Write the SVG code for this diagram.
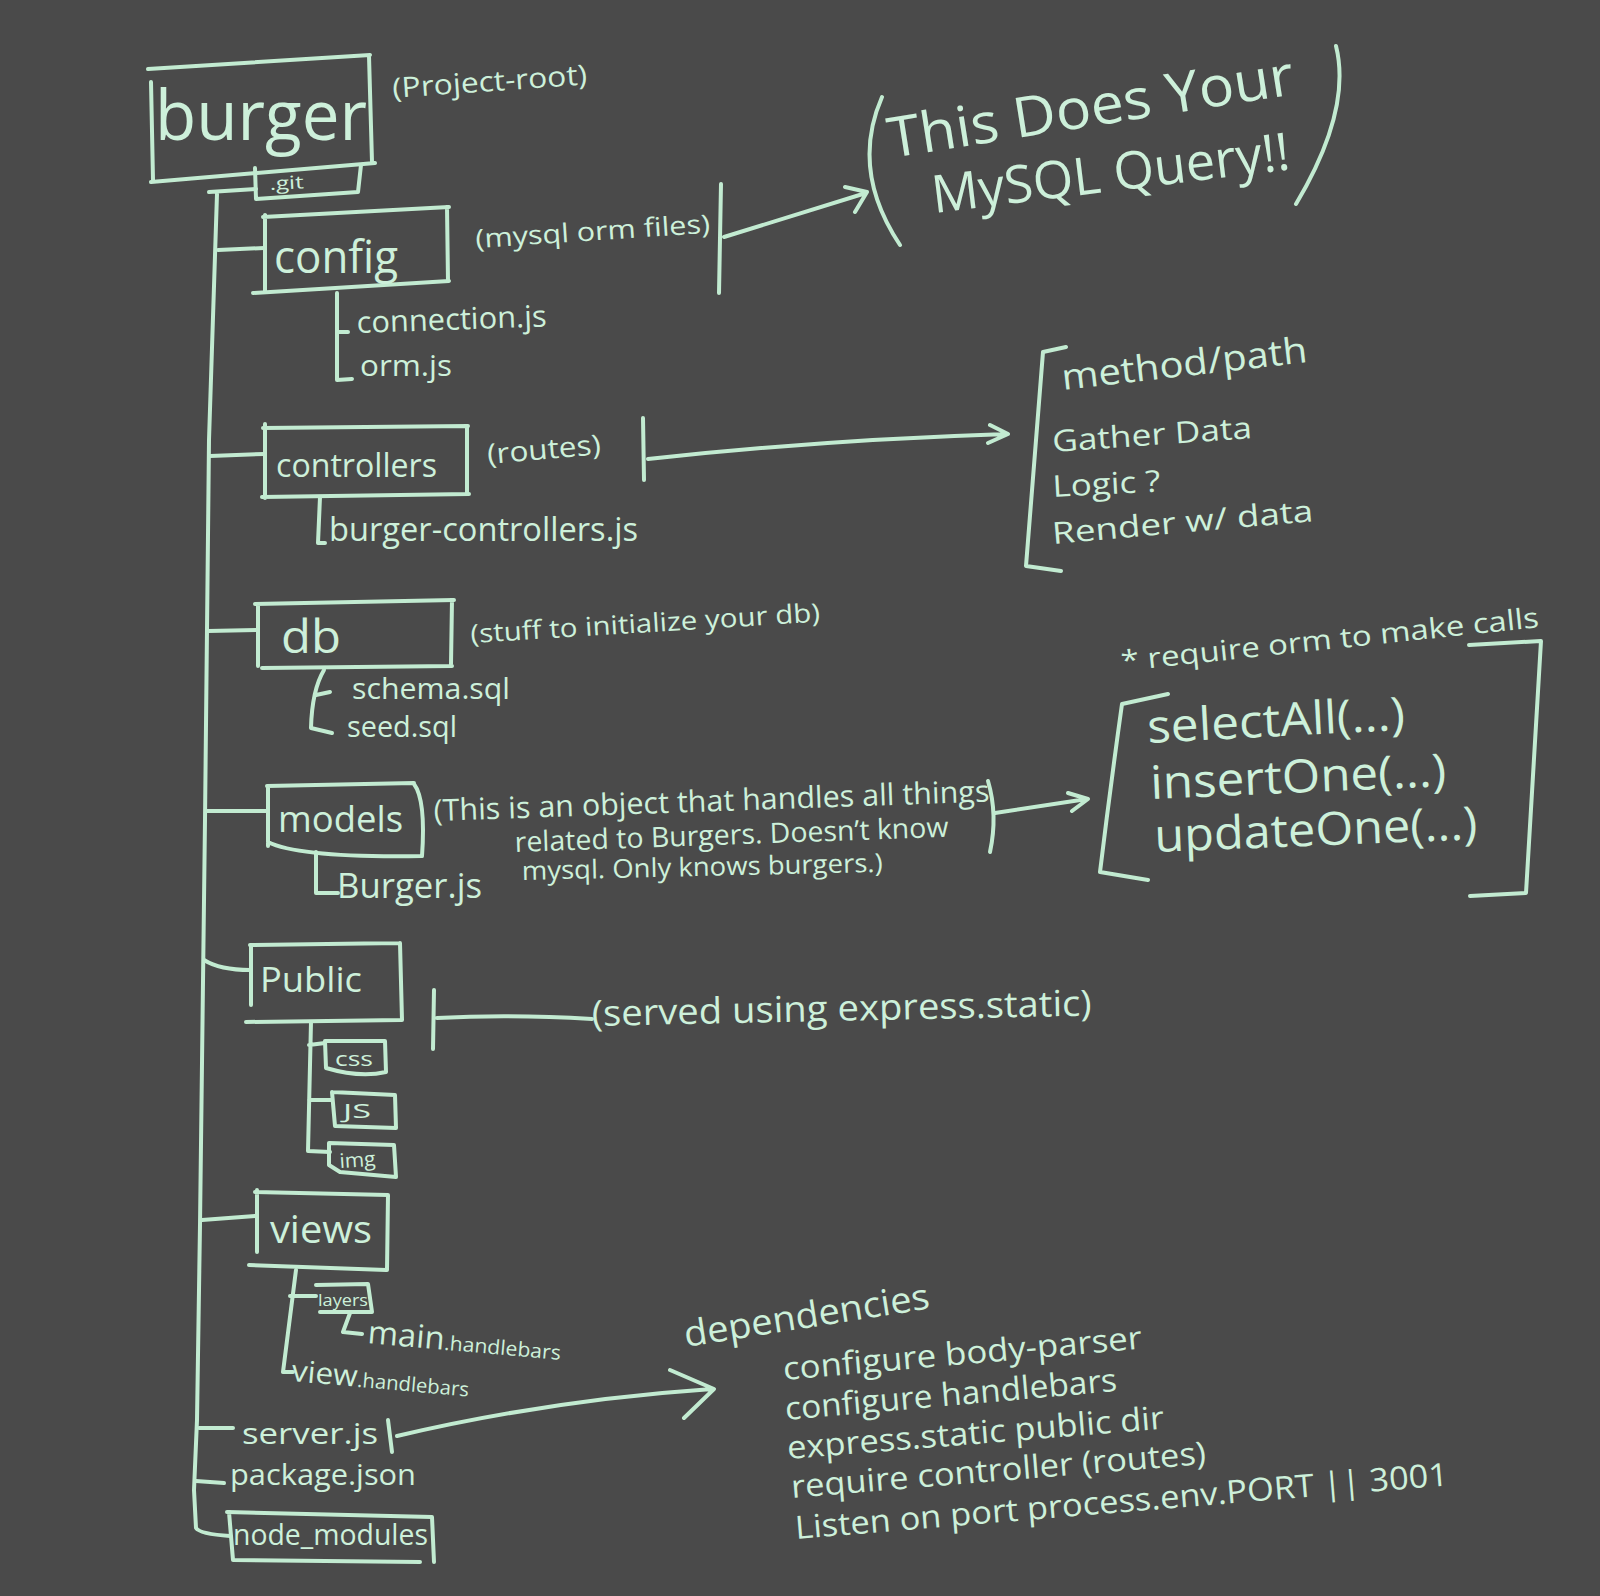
<svg xmlns="http://www.w3.org/2000/svg" width="1600" height="1596" viewBox="0 0 1600 1596">
<style>
.c{fill:none;stroke:#c2ebd1;stroke-width:4;stroke-linecap:round;stroke-linejoin:round}
.t{fill:#cdf0da;font-family:"Open Sans","Liberation Sans",sans-serif}
</style>
<rect width="1600" height="1596" fill="#4a4a4a"/>
<g id="connectors">
<path class="c" d="M209,192 L256,189 M217,194 L209,440 L205,820 L200,1225 L197,1420 L194,1490 L196,1528 Q200,1534 230,1536"/>
<path class="c" d="M218,250 L264,248 M210,456 L264,454 M208,631 L256,630 M206,811 L268,811 M204,960 Q220,970 250,970 M202,1220 L255,1216 M199,1428 L233,1428 M196,1481 L224,1483"/>
<path class="c" d="M337,293 L337,380 L352,379 M337,332 L348,332"/>
<path class="c" d="M320,497 L318,543 L325,543"/>
<path class="c" d="M324,670 Q312,690 311,728 L332,733 M316,695 L330,692"/>
<path class="c" d="M316,852 L316,893 L338,893"/>
<path class="c" d="M311,1022 L308,1151 L330,1152 M309,1045 L325,1043 M309,1100 L332,1100"/>
<path class="c" d="M296,1270 L283,1372 L293,1372 M290,1296 L316,1296 M350,1313 L343,1332 L362,1334"/>
<path class="c" d="M721,184 L719,293 M724,237 L866,193 M845,187 L867,192 L855,212"/>
<path class="c" d="M643,418 L644,480 M648,459 Q820,440 1007,434 M990,425 L1008,434 L988,443"/>
<path class="c" d="M995,813 L1087,799 M1068,793 L1088,799 L1072,811"/>
<path class="c" d="M434,990 L433,1049 M437,1018 Q510,1014 592,1019"/>
<path class="c" stroke-width="8" d="M388,1420 L392,1452"/>
<path class="c" d="M397,1436 Q550,1400 712,1389 M670,1370 L714,1389 L684,1418"/>
</g>
<g id="burger">
<path class="c" d="M148,69 L370,55 M151,82 L153,180 M151,182 L375,163 M369,56 L372,162"/>
<text class="t" x="155" y="140" font-size="70" textLength="212" lengthAdjust="spacingAndGlyphs">burger</text>
<text class="t" x="393" y="98" font-size="28" textLength="195" lengthAdjust="spacingAndGlyphs" transform="rotate(-4 393 98)">(Project-root)</text>
</g>
<g id="git">
<path class="c" d="M255,168 L256,199 L358,192 L361,165"/>
<text class="t" x="270" y="190" font-size="18" textLength="34" lengthAdjust="spacingAndGlyphs" transform="rotate(-3 270 190)">.git</text>
</g>
<g id="config">
<path class="c" d="M263,217 L449,207 M265,215 L265,291 M253,293 L449,281 M447,207 L448,281"/>
<text class="t" x="274" y="273" font-size="46" textLength="124" lengthAdjust="spacingAndGlyphs">config</text>
<text class="t" x="357" y="333" font-size="30" textLength="190" lengthAdjust="spacingAndGlyphs" transform="rotate(-2 357 333)">connection.js</text>
<text class="t" x="360" y="376" font-size="30" textLength="92" lengthAdjust="spacingAndGlyphs">orm.js</text>
<text class="t" x="476" y="248" font-size="26" textLength="235" lengthAdjust="spacingAndGlyphs" transform="rotate(-3.7 476 248)">(mysql orm files)</text>
</g>
<g id="mysql-query">
<path class="c" d="M882,97 Q850,170 900,245 M1336,46 Q1352,110 1296,204"/>
<text class="t" x="891" y="158" font-size="56" textLength="410" lengthAdjust="spacingAndGlyphs" transform="rotate(-9 891 158)">This Does Your</text>
<text class="t" x="934" y="213" font-size="52" textLength="360" lengthAdjust="spacingAndGlyphs" transform="rotate(-7 934 213)">MySQL Query!!</text>
</g>
<g id="controllers">
<path class="c" d="M263,428 L468,426 M265,424 L265,498 M262,497 L469,494 M467,426 L467,494"/>
<text class="t" x="276" y="477" font-size="32" textLength="161" lengthAdjust="spacingAndGlyphs">controllers</text>
<text class="t" x="329" y="541" font-size="32" textLength="309" lengthAdjust="spacingAndGlyphs">burger-controllers.js</text>
<text class="t" x="488" y="464" font-size="28" textLength="114" lengthAdjust="spacingAndGlyphs" transform="rotate(-5 488 464)">(routes)</text>
</g>
<g id="route-steps">
<path class="c" d="M1066,347 L1043,352 Q1035,450 1026,566 L1061,571"/>
<text class="t" x="1063" y="390" font-size="36" textLength="247" lengthAdjust="spacingAndGlyphs" transform="rotate(-6.5 1063 390)">method/path</text>
<text class="t" x="1053" y="452" font-size="30" textLength="200" lengthAdjust="spacingAndGlyphs" transform="rotate(-4 1053 452)">Gather Data</text>
<text class="t" x="1053" y="497" font-size="30" textLength="108" lengthAdjust="spacingAndGlyphs" transform="rotate(-3 1053 497)">Logic ?</text>
<text class="t" x="1053" y="544" font-size="30" textLength="262" lengthAdjust="spacingAndGlyphs" transform="rotate(-5 1053 544)">Render w/ data</text>
</g>
<g id="db">
<path class="c" d="M255,604 L454,600 M258,604 L258,666 M262,668 L452,666 M452,600 L451,664"/>
<text class="t" x="281" y="653" font-size="46" textLength="60" lengthAdjust="spacingAndGlyphs">db</text>
<text class="t" x="352" y="699" font-size="30" textLength="158" lengthAdjust="spacingAndGlyphs">schema.sql</text>
<text class="t" x="347" y="737" font-size="30" textLength="110" lengthAdjust="spacingAndGlyphs">seed.sql</text>
<text class="t" x="471" y="643" font-size="26" textLength="350" lengthAdjust="spacingAndGlyphs" transform="rotate(-3.5 471 643)">(stuff to initialize your db)</text>
</g>
<g id="models">
<path class="c" d="M267,786 L414,783 M268,786 L268,846 M268,842 Q300,858 422,856 M414,784 Q426,800 422,856"/>
<text class="t" x="278" y="832" font-size="36" textLength="125" lengthAdjust="spacingAndGlyphs">models</text>
<text class="t" x="337" y="898" font-size="34" textLength="145" lengthAdjust="spacingAndGlyphs">Burger.js</text>
<text class="t" x="434" y="821" font-size="30" textLength="556" lengthAdjust="spacingAndGlyphs" transform="rotate(-2 434 821)">(This is an object that handles all things</text>
<text class="t" x="515" y="852" font-size="28" textLength="434" lengthAdjust="spacingAndGlyphs" transform="rotate(-2 515 852)">related to Burgers. Doesn’t know</text>
<text class="t" x="522" y="880" font-size="26" textLength="361" lengthAdjust="spacingAndGlyphs" transform="rotate(-1.3 522 880)">mysql. Only knows burgers.)</text>
<path class="c" stroke-width="3" d="M988,781 Q998,815 990,852"/>
</g>
<g id="orm-calls">
<path class="c" d="M1168,694 L1122,704 Q1110,790 1100,872 L1148,880 M1469,645 L1541,641 L1526,893 L1470,896"/>
<text class="t" x="1122" y="671" font-size="28" textLength="420" lengthAdjust="spacingAndGlyphs" transform="rotate(-6 1122 671)">* require orm to make calls</text>
<text class="t" x="1148" y="743" font-size="46" textLength="258" lengthAdjust="spacingAndGlyphs" transform="rotate(-3 1148 743)">selectAll(...)</text>
<text class="t" x="1151" y="799" font-size="46" textLength="296" lengthAdjust="spacingAndGlyphs" transform="rotate(-2.5 1151 799)">insertOne(...)</text>
<text class="t" x="1155" y="852" font-size="46" textLength="323" lengthAdjust="spacingAndGlyphs" transform="rotate(-2.3 1155 852)">updateOne(...)</text>
</g>
<g id="public">
<path class="c" d="M250,945 L400,943 M251,945 L251,1005 M246,1022 L401,1020 M400,943 L402,1020"/>
<text class="t" x="260" y="992" font-size="34" textLength="102" lengthAdjust="spacingAndGlyphs">Public</text>
<text class="t" x="592" y="1026" font-size="36" textLength="500" lengthAdjust="spacingAndGlyphs" transform="rotate(-1.2 592 1026)">(served using express.static)</text>
</g>
<g id="css">
<path class="c" d="M325,1041 L385,1041 L386,1072 Q360,1078 326,1068 L325,1041"/>
<text class="t" x="335" y="1066" font-size="20" textLength="38" lengthAdjust="spacingAndGlyphs">css</text>
</g>
<g id="js">
<path class="c" d="M332,1092 L395,1095 L396,1128 L335,1126 L332,1092"/>
<text class="t" x="343" y="1118" font-size="20" textLength="28" lengthAdjust="spacingAndGlyphs">JS</text>
</g>
<g id="img">
<path class="c" d="M329,1143 L394,1145 L396,1177 L340,1172 L329,1165 L329,1143"/>
<text class="t" x="340" y="1168" font-size="20" textLength="36" lengthAdjust="spacingAndGlyphs" transform="rotate(-4 340 1168)">img</text>
</g>
<g id="views">
<path class="c" d="M255,1192 L388,1195 M257,1190 L257,1252 M249,1265 L386,1270 M388,1195 L387,1270"/>
<text class="t" x="270" y="1243" font-size="38" textLength="102" lengthAdjust="spacingAndGlyphs">views</text>
</g>
<g id="layers">
<path class="c" stroke-width="3" d="M316,1285 L368,1284 L372,1312 L320,1312"/>
<text class="t" x="318" y="1306" font-size="16" textLength="50" lengthAdjust="spacingAndGlyphs">layers</text>
<text class="t" x="367" y="1343" font-size="32" transform="rotate(5 367 1343)"><tspan textLength="77" lengthAdjust="spacingAndGlyphs">main</tspan><tspan font-size="20" textLength="117" lengthAdjust="spacingAndGlyphs">.handlebars</tspan></text>
</g>
<g id="view-hbs">
<text class="t" x="291" y="1381" font-size="30" transform="rotate(5 291 1381)"><tspan textLength="66" lengthAdjust="spacingAndGlyphs">view</tspan><tspan font-size="20" textLength="112" lengthAdjust="spacingAndGlyphs">.handlebars</tspan></text>
</g>
<g id="server">
<text class="t" x="242" y="1444" font-size="30" textLength="136" lengthAdjust="spacingAndGlyphs">server.js</text>
</g>
<g id="package">
<text class="t" x="230" y="1485" font-size="30" textLength="186" lengthAdjust="spacingAndGlyphs">package.json</text>
</g>
<g id="node_modules">
<path class="c" d="M227,1512 L432,1517 L434,1562 M229,1512 L233,1560 L420,1562"/>
<text class="t" x="233" y="1545" font-size="30" textLength="195" lengthAdjust="spacingAndGlyphs">node_modules</text>
</g>
<g id="dependencies">
<text class="t" x="686" y="1347" font-size="36" textLength="248" lengthAdjust="spacingAndGlyphs" transform="rotate(-9 686 1347)">dependencies</text>
<text class="t" x="784" y="1380" font-size="32" textLength="360" lengthAdjust="spacingAndGlyphs" transform="rotate(-5 784 1380)">configure body-parser</text>
<text class="t" x="786" y="1420" font-size="32" textLength="333" lengthAdjust="spacingAndGlyphs" transform="rotate(-5 786 1420)">configure handlebars</text>
<text class="t" x="788" y="1459" font-size="32" textLength="378" lengthAdjust="spacingAndGlyphs" transform="rotate(-4.6 788 1459)">express.static public dir</text>
<text class="t" x="792" y="1498" font-size="32" textLength="416" lengthAdjust="spacingAndGlyphs" transform="rotate(-4.7 792 1498)">require controller (routes)</text>
<text class="t" x="796" y="1539" font-size="32" textLength="655" lengthAdjust="spacingAndGlyphs" transform="rotate(-4.7 796 1539)">Listen on port process.env.PORT || 3001</text>
</g>
</svg>
